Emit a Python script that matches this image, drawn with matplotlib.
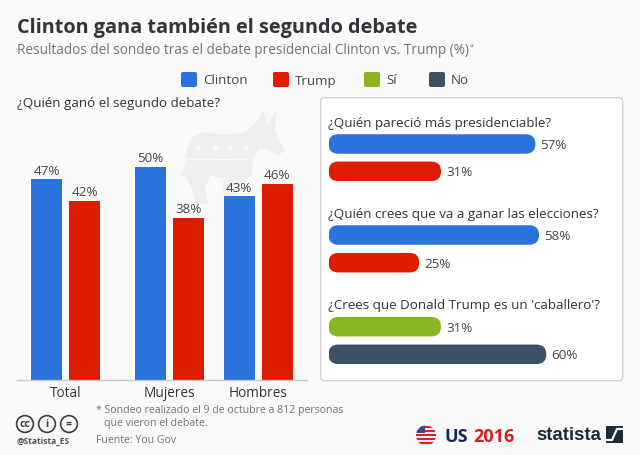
import matplotlib
matplotlib.use('Agg')
import matplotlib.pyplot as plt
from matplotlib.patches import FancyBboxPatch, Polygon, Circle, Rectangle

plt.rcParams['font.family'] = ['Open Sans', 'DejaVu Sans']

W, H = 640, 456
BG = '#fafafa'
BLUE = '#2a73dc'
RED = '#dd1c00'
GREEN = '#8ab623'
NAVY = '#3d5166'
DARK = '#2f353b'
GREY = '#6f7478'

# left chart
groups = ['Total', 'Mujeres', 'Hombres']
clinton = [47, 50, 43]
trump = [42, 38, 46]

# right panel
questions = ['¿Quién pareció más presidenciable?',
             '¿Quién crees que va a ganar las elecciones?',
             "¿Crees que Donald Trump es un 'caballero'?"]
first_vals = [57, 58, 31]
second_vals = [31, 25, 60]
first_cols = [BLUE, BLUE, GREEN]
second_cols = [RED, RED, NAVY]

legend_names = ['Clinton', 'Trump', 'Sí', 'No']
legend_cols = [BLUE, RED, GREEN, NAVY]


def axes_px(x0, y0, x1, y1, **kw):
    # axes placed with pixel box, y measured from the top of the image
    return fig.add_axes([x0 / W, 1 - y1 / H, (x1 - x0) / W, (y1 - y0) / H], **kw)


fig = plt.figure(figsize=(W / 100, H / 100), dpi=100, facecolor=BG)

# overlay in image pixels for texts, legend, panel and logos
bg = axes_px(0, 0, W, H)
bg.set_xlim(0, W)
bg.set_ylim(H, 0)
bg.axis('off')

bg.text(17, 28, 'Clinton gana también el segundo debate', fontsize=14.35,
        fontweight='bold', color=DARK, va='center')
bg.text(17, 51, 'Resultados del sondeo tras el debate presidencial Clinton vs. Trump (%)',
        fontsize=9.8, color=GREY, va='center')
bg.text(469.5, 47, '*', fontsize=5.5, color=GREY, va='center')

# legend
for x, name, col in zip([181, 273, 364, 429], legend_names, legend_cols):
    bg.add_patch(FancyBboxPatch((x, 73), 16, 15, boxstyle='round,pad=0,rounding_size=2',
                                fc=col, ec='none'))
    bg.text(x + 22, 81, name, fontsize=9.6, color='#43484d', va='center')

bg.text(17, 104, '¿Quién ganó el segundo debate?', fontsize=9.6, color=DARK, va='center')

# donkey watermark
donkey = [(263, 112), (268, 124), (277, 112), (275, 130), (280, 142), (285, 152), (278, 156),
          (268, 150), (259, 150), (253, 160), (252, 175), (245, 183), (235, 195), (228, 205),
          (222, 190), (225, 180), (210, 176), (205, 190), (208, 205), (196, 205), (192, 190),
          (186, 178), (180, 177), (185, 165), (187, 150), (192, 138), (205, 133), (225, 136),
          (245, 133), (255, 125)]
bg.add_patch(Polygon(donkey, closed=True, fc='#efefef', ec='none'))
for x in [198, 215, 230, 246]:
    bg.add_patch(Circle((x, 149), 3, fc=BG, ec='none'))
bg.plot([186, 252], [160, 161], color=BG, lw=0.8)

# white panel
bg.add_patch(FancyBboxPatch((320.7, 98.7), 302, 283, boxstyle='round,pad=0,rounding_size=4',
                            fc='white', ec='#d2d2d2', lw=1))

# footer
bg.text(96, 411, '* Sondeo realizado el 9 de octubre a 812 personas', fontsize=7.55,
        color=GREY, va='center')
bg.text(104, 424, 'que vieron el debate.', fontsize=7.55, color=GREY, va='center')
bg.text(96, 441, 'Fuente: You Gov', fontsize=7.55, color=GREY, va='center')
for x, s in zip([25, 47, 69], ['cc', 'i', '=']):
    bg.add_patch(Circle((x, 425), 8.4, fc='none', ec='#3c3c3c', lw=1.2))
    bg.text(x, 424.5, s, fontsize=7.5, fontweight='bold', color='#3c3c3c', ha='center', va='center')
bg.text(17, 441.5, '@Statista_ES', fontsize=6.1, fontweight='bold', color='#555555', va='center')

# flag
bg.add_patch(Circle((426, 436.5), 10, fc='#e8e8f0', ec='none'))
clip = Circle((426, 436.5), 10, transform=bg.transData)
for i in range(5):
    r = Rectangle((416, 427.5 + i * 4), 20, 2, fc='#d8232a', ec='none')
    bg.add_patch(r)
    r.set_clip_path(clip)
r = Rectangle((416, 426), 9, 8, fc='#3b4a8c', ec='none')
bg.add_patch(r)
r.set_clip_path(clip)
bg.text(444, 437, 'US', fontsize=13, fontweight='bold', color='#14275a', va='center')
bg.text(473, 437, '2016', fontsize=13, fontweight='bold', color='#d81e1e', va='center')
bg.text(536, 435.5, 'statista', fontsize=13.4, fontweight='bold', color='#1b2b3a', va='center',
        family=['Liberation Sans', 'DejaVu Sans'])
bg.add_patch(Rectangle((606, 427), 17, 17, fc='#1b2b3a', ec='none'))
bg.plot([606, 612, 617, 623], [441, 441, 430, 430], color=BG, lw=1.6)

# left bar chart, x axis units are pixels of the group layout
ax = axes_px(17, 120, 307, 380.5)
ax.patch.set_alpha(0)
group_x = [65.5, 169.5, 258]
offset = 19
bw = 31
ax.set_xlim(17, 307)
ax.set_ylim(0, 260.5 / 4.26)
cl_x = [g - offset for g in group_x]
tr_x = [g + offset for g in group_x]
ax.bar(cl_x, clinton, bw, color=BLUE)
ax.bar(tr_x, trump, bw, color=RED)
for x, v in zip(cl_x + tr_x, clinton + trump):
    ax.annotate(f'{v}%', (x, v), xytext=(0, 2), textcoords='offset points', ha='center',
                va='bottom', fontsize=9.7, color='#43484d')
for s in ['top', 'left', 'right']:
    ax.spines[s].set_visible(False)
ax.spines['bottom'].set_color('#c9c9c9')
ax.spines['bottom'].set_linewidth(1)
ax.set_yticks([])
ax.set_xticks(group_x)
ax.set_xticklabels(groups, fontsize=9.8, color=DARK)
ax.tick_params(axis='x', length=0, pad=4)

# right rounded bars, x in percent, y in pixels
pct_px = 3.63
rax = axes_px(328.5, 99, 623, 381)
rax.patch.set_alpha(0)
rax.set_xlim(0, 294.5 / pct_px)
rax.set_ylim(381, 99)
rax.axis('off')
bar_h = 19.5
q_y = [123, 214.5, 305.5]
first_y = [145, 236, 327.7]
second_y = [172.3, 263.7, 355.3]


def round_bar(y, v, col):
    r = bar_h / 2 / pct_px
    rax.add_patch(FancyBboxPatch((0, y - bar_h / 2), v, bar_h,
                                 boxstyle=f'round,pad=0,rounding_size={r}',
                                 mutation_aspect=pct_px, fc=col, ec='none'))
    rax.text(v + 1.4, y + 0.5, f'{v}%', fontsize=9.7, color='#43484d', va='center')


for i, q in enumerate(questions):
    rax.text(0, q_y[i], q, fontsize=9.6, color=DARK, va='center')
    round_bar(first_y[i], first_vals[i], first_cols[i])
    round_bar(second_y[i], second_vals[i], second_cols[i])

fig.savefig('out.png', dpi=100, facecolor=BG)
